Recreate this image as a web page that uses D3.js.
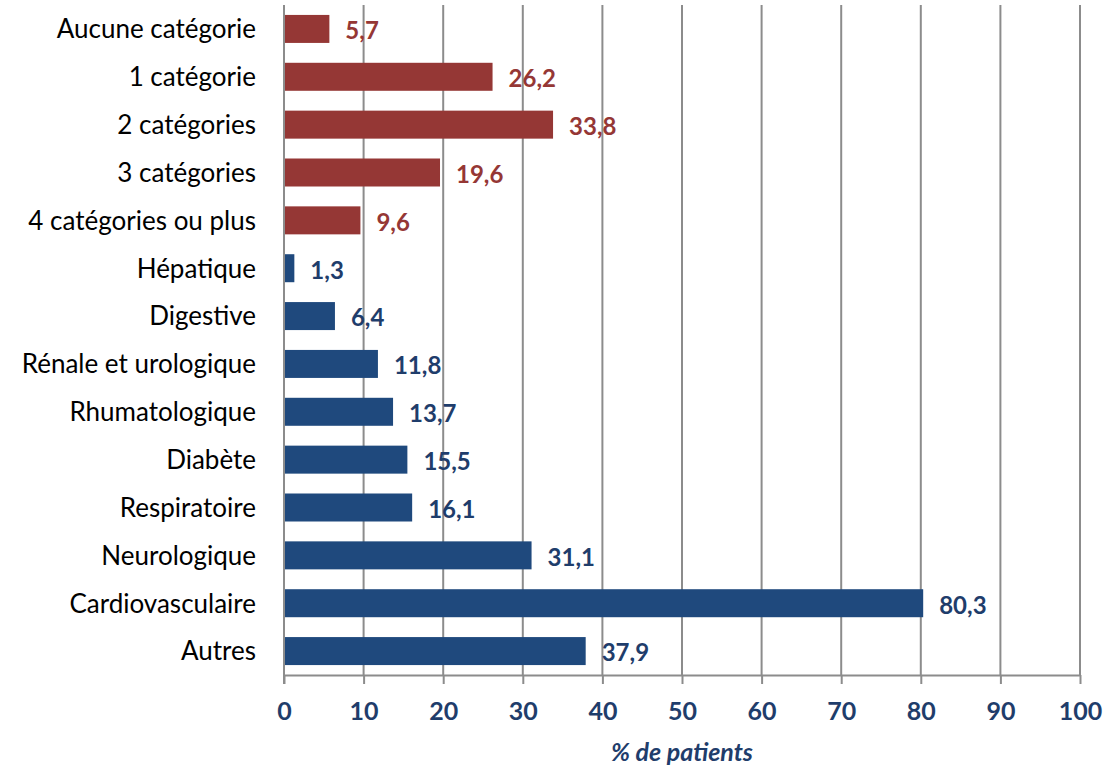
<!DOCTYPE html>
<html><head><meta charset="utf-8">
<script src="https://cdn.jsdelivr.net/npm/d3@7"></script>
<style>body{margin:0;background:#fff;} svg{display:block;}</style>
</head><body>
<svg id="c" width="1110" height="769"></svg>
<script>
const categories = ["Aucune catégorie","1 catégorie","2 catégories","3 catégories","4 catégories ou plus","Hépatique","Digestive","Rénale et urologique","Rhumatologique","Diabète","Respiratoire","Neurologique","Cardiovasculaire","Autres"];
const values = [5.7,26.2,33.8,19.6,9.6,1.3,6.4,11.8,13.7,15.5,16.1,31.1,80.3,37.9];
const groups = ["count","count","count","count","count","type","type","type","type","type","type","type","type","type"];
const ticks = [0,10,20,30,40,50,60,70,80,90,100];
const axisTitle = "% de patients";

const barColor = {count:"#953735", type:"#1F497D"};
const textColor = {count:"#953735", type:"#1F3D6B"};
const font = "Lato, 'Open Sans', sans-serif";

const svg = d3.select("#c");
const x = d3.scaleLinear().domain([0,100]).range([284,1080]);
const y = d3.scaleBand().domain(categories).range([5,675]).paddingInner(0.415).paddingOuter(0.2075);

// grid
svg.append("g").selectAll("line").data(ticks.slice(1)).join("line")
  .attr("x1",d=>x(d)).attr("x2",d=>x(d)).attr("y1",5).attr("y2",675)
  .attr("stroke","#8c8c8c").attr("stroke-width",2);

// bars
svg.append("g").selectAll("rect").data(categories).join("rect")
  .attr("x",x(0)).attr("y",d=>y(d)).attr("height",y.bandwidth())
  .attr("width",(d,i)=>x(values[i])-x(0))
  .attr("fill",(d,i)=>barColor[groups[i]]);

// x axis
const ax = svg.append("g").attr("transform","translate(0,675)")
  .call(d3.axisBottom(x).tickValues(ticks).tickSize(9).tickSizeOuter(0).tickPadding(18));
ax.select(".domain").attr("stroke","#8c8c8c").attr("stroke-width",2);
ax.selectAll(".tick line").attr("stroke","#8c8c8c").attr("stroke-width",2);
ax.selectAll(".tick text").attr("fill","#1F3D6B").attr("font-family",font)
  .attr("font-size",25).attr("font-weight","bold");

// y axis line
svg.append("line").attr("x1",x(0)).attr("x2",x(0)).attr("y1",5).attr("y2",684)
  .attr("stroke","#8c8c8c").attr("stroke-width",2);

// category labels
svg.append("g").selectAll("text").data(categories).join("text")
  .attr("x",256).attr("y",d=>y(d)+y.bandwidth()/2).attr("dy","0.36em")
  .attr("text-anchor","end").attr("font-family",font).attr("font-size",26)
  .attr("fill","#000").text(d=>d);

// value labels
svg.append("g").selectAll("text").data(categories).join("text")
  .attr("x",(d,i)=>x(values[i])+16).attr("y",d=>y(d)+y.bandwidth()/2+2).attr("dy","0.35em")
  .attr("font-family",font).attr("font-size",24).attr("font-weight","bold")
  .attr("fill",(d,i)=>textColor[groups[i]])
  .text((d,i)=>values[i].toFixed(1).replace(".",","));

// axis title
svg.append("text").attr("x",(x(0)+x(100))/2).attr("y",761).attr("text-anchor","middle")
  .attr("font-family",font).attr("font-size",25).attr("font-weight","bold").attr("font-style","italic")
  .attr("fill","#1F3D6B").text(axisTitle);
</script>
</body></html>
